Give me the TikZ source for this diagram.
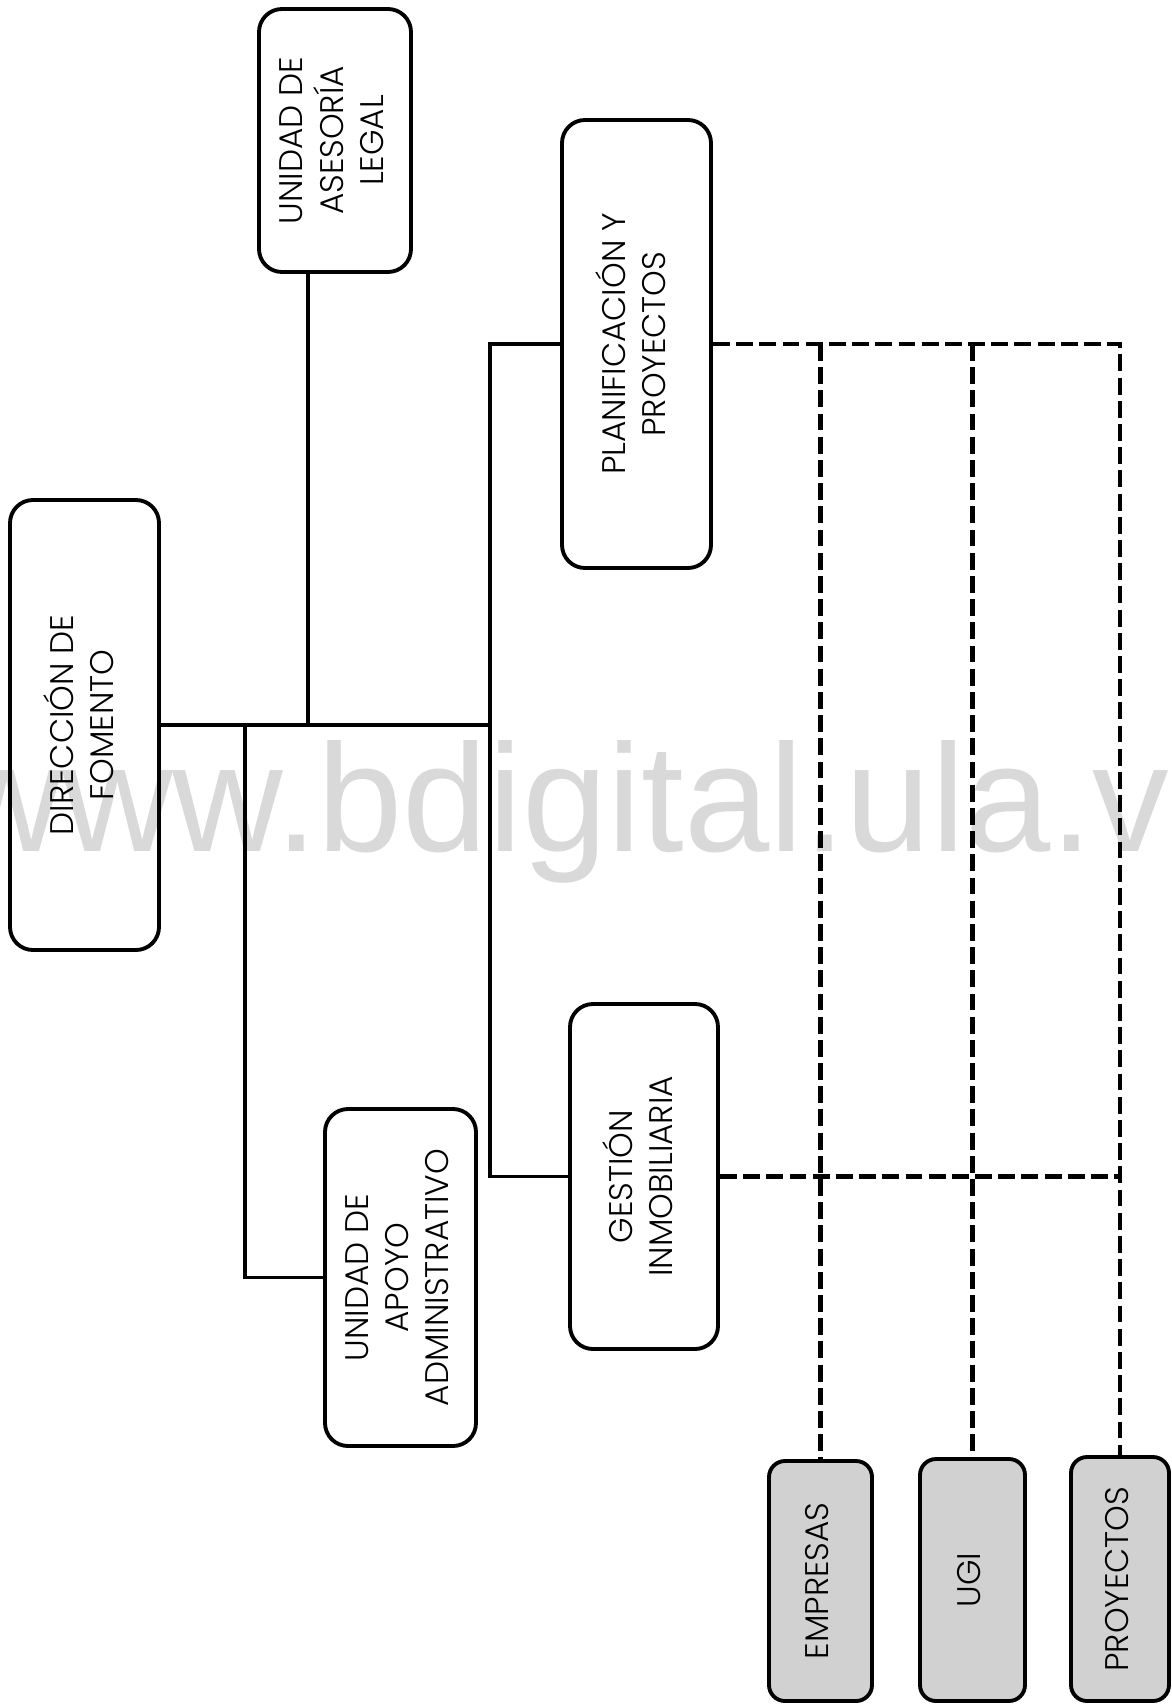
\documentclass[tikz,border=0pt]{standalone}
\usepackage{fontspec}
\setmainfont{Poppins}[UprightFont=* Light]
\newfontfamily\markfont{Liberation Sans}
\usetikzlibrary{calc}

\newcommand{\vlabel}[1]{\rotatebox{90}{\begin{tabular}{@{}c@{}}#1\end{tabular}}}

\tikzset{
  unit/.style={draw, line width=1.1pt, rounded corners=2.3mm, inner sep=0pt,
    font=\fontsize{9.3}{11.4}\selectfont},
  leaf/.style={unit, fill=black!18, rounded corners=1.6mm},
  link/.style={line width=0.9pt},
  dotlink/.style={line width=1.4pt, dash pattern=on 4.8pt off 1.8pt},
}

\begin{document}
\begin{tikzpicture}

\useasboundingbox (0,0) rectangle (11.71,-17.06);
\clip (0,0) rectangle (11.71,-17.06);

% watermark
\node[anchor=base west, inner sep=0pt, text=black!15, font=\markfont\fontsize{43.6}{44}\selectfont] (mark) at (-0.49,-8.51) {www.bdigital.ula.ve};

% units
\node[unit, minimum width=1.52cm, minimum height=2.63cm] (legal) at (3.35,-1.405) {\vlabel{UNIDAD DE\\ASESORÍA\\LEGAL}};
\node[unit, minimum width=1.49cm, minimum height=4.48cm] (plan) at (6.365,-3.44) {\vlabel{PLANIFICACIÓN Y\\PROYECTOS}};
\node[unit, minimum width=1.49cm, minimum height=4.50cm] (dir) at (0.845,-7.25) {\vlabel{DIRECCIÓN DE\\FOMENTO}};
\node[unit, minimum width=1.48cm, minimum height=3.45cm] (gest) at (6.44,-11.765) {\vlabel{GESTIÓN\\INMOBILIARIA}};
\node[unit, minimum width=1.51cm, minimum height=3.37cm] (apoyo) at (4.005,-12.775) {\vlabel{UNIDAD DE\\APOYO\\ADMINISTRATIVO}};

\node[leaf, minimum width=1.03cm, minimum height=2.40cm] (emp) at (8.205,-15.81) {\vlabel{EMPRESAS}};
\node[leaf, minimum width=1.05cm, minimum height=2.42cm] (ugi) at (9.725,-15.80) {\vlabel{UGI}};
\node[leaf, minimum width=0.98cm, minimum height=2.44cm] (proy) at (11.20,-15.79) {\vlabel{PROYECTOS}};

% solid links
\coordinate (trunk) at (4.90,-7.25);
\coordinate (apoyox) at (2.45,-7.25);
\coordinate (legalfoot) at ([xshift=-2.7mm]legal.south);
\draw[link] (dir.east) -- (trunk);
\draw[link] (plan.west) -| (trunk) |- (gest.west);
\draw[link] (legalfoot) -- (legalfoot |- dir.east);
\draw[link] (apoyox) |- (apoyo.west);

% dashed links
\draw[dotlink] (plan.east) -| (proy.north);
\draw[dotlink] (gest.east) -- (gest.east -| proy.north);
\draw[dotlink] (plan.east -| emp.north) -- (emp.north);
\draw[dotlink] (plan.east -| ugi.north) -- (ugi.north);

\end{tikzpicture}
\end{document}
